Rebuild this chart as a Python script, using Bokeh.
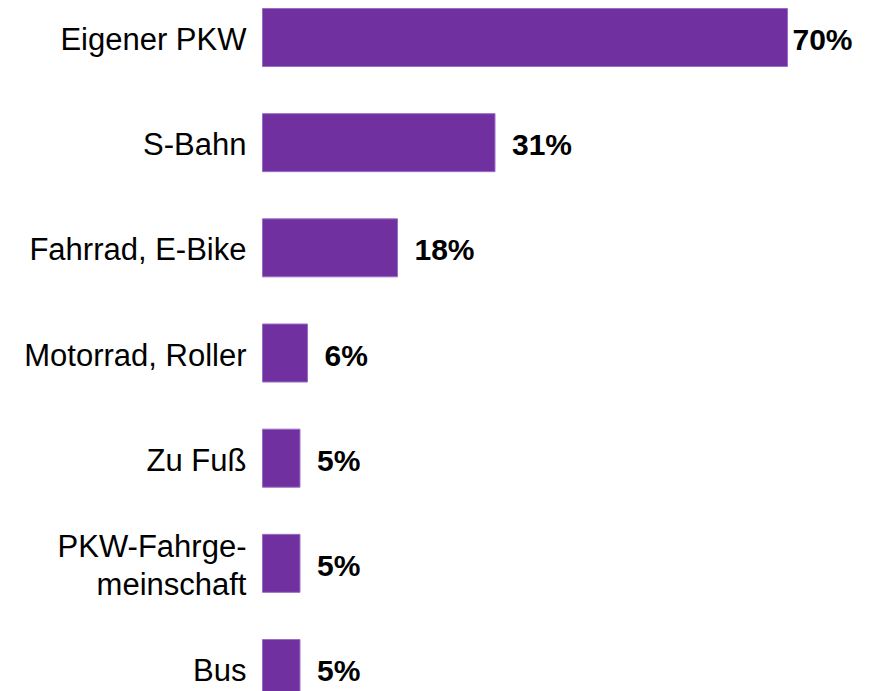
from bokeh.plotting import figure
from bokeh.models import ColumnDataSource, Range1d
from bokeh.core.properties import value
from bokeh.embed import file_html
from bokeh.resources import INLINE

categories = ["Eigener PKW", "S-Bahn", "Fahrrad, E-Bike", "Motorrad, Roller",
              "Zu Fuß", "PKW-Fahrge-\nmeinschaft", "Bus"]
values = [70, 31, 18, 6, 5, 5, 5]

idx = list(range(len(categories)))
vmax = max(values)
src = ColumnDataSource(dict(
    y=idx,
    v=values,
    cat=categories,
    lab=[f"{v}%" for v in values],
    xoff=[5 if v == vmax else 17 for v in values],
))

W, H = 874, 691
p = figure(width=W, height=H, output_backend="svg", toolbar_location=None,
           x_range=Range1d(-34.93, 81.6), y_range=Range1d(6.2185, -0.3518),
           min_border=0)
p.axis.visible = False
p.grid.visible = False
p.outline_line_color = None
p.background_fill_color = "white"
p.border_fill_color = "white"

p.hbar(y="y", left=0, right="v", height=0.5515, source=src,
       fill_color="#7030A0", line_color="#9a6cc4", line_width=1)

p.text(x=0, y="y", text="cat", source=src, x_offset=-16, y_offset=2,
       text_align="right", text_baseline="middle",
       text_font=value("Liberation Sans"), text_font_size="31px",
       text_color="black", text_line_height=1.08)

p.text(x="v", y="y", text="lab", source=src, x_offset="xoff", y_offset=2,
       text_align="left", text_baseline="middle",
       text_font=value("Liberation Sans"), text_font_size="30px",
       text_font_style="bold", text_color="black")

open("out.html", "w").write(file_html(p, INLINE))
